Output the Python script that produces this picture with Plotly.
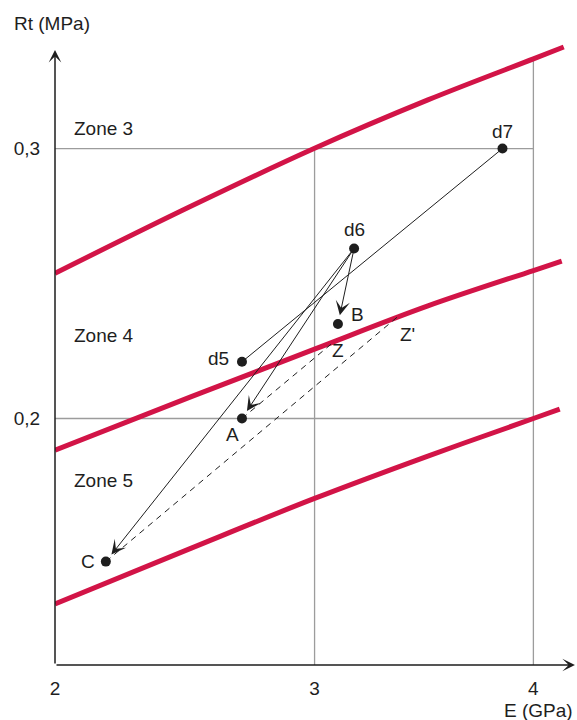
import numpy as np
import plotly.graph_objects as go

# Zone boundary curves: E (GPa) vs Rt (MPa)
upper_E = [2.0, 2.5, 3.0, 3.5, 4.0, 4.15]
upper_Rt = [0.2538, 0.2787, 0.3001, 0.3180, 0.3332, 0.3376]
middle_E = [2.0, 2.5, 3.0, 3.5, 4.0, 4.14]
middle_Rt = [0.1883, 0.2081, 0.2257, 0.2417, 0.2548, 0.2583]
lower_E = [2.0, 2.5, 3.0, 3.5, 4.0, 4.13]
lower_Rt = [0.1313, 0.1520, 0.1704, 0.1861, 0.2000, 0.2035]

# Measured states
point_names = ["d7", "d6", "d5", "B", "A", "C"]
point_E = [3.85, 3.17, 2.70, 3.10, 2.70, 2.18]
point_Rt = [0.300, 0.263, 0.221, 0.235, 0.200, 0.147]

# Projections onto the zone 4 / zone 5 boundary
target_names = ["Z", "Z'"]
target_E = [3.07, 3.36]
target_Rt = [0.2275, 0.2375]

# Zone names
zone_names = ["Zone 3", "Zone 4", "Zone 5"]
zone_Rt = [0.3076, 0.2309, 0.1772]

x_tick_values = [2, 3, 4]
y_tick_values = [0.2, 0.3]
y_tick_text = ["0,2", "0,3"]

RED = "#d21447"
INK = "#1e1e1e"
GRID = "#9c9c9c"
FONT = dict(family="Liberation Sans, Arial, sans-serif", size=19, color=INK)


def sx(e):
    """E axis is drawn on a square-root scale."""
    return np.sqrt(np.asarray(e, dtype=float))


pos = {n: (float(sx(e)), r) for n, e, r in zip(point_names, point_E, point_Rt)}
pos.update({n: (float(sx(e)), r) for n, e, r in zip(target_names, target_E, target_Rt)})

X_RANGE = [float(sx(2.0)), 2.0534]
Y_RANGE = [0.1087, 0.3402]
X_TIP = 2.0509
Y_TIP = 0.3365

fig = go.Figure()

# grid lines (box up to E = 4, vertical lines stop at the upper curve)
grid_shapes = []
for r in y_tick_values:
    grid_shapes.append(dict(type="line", xref="x", yref="y", x0=float(sx(2)), x1=float(sx(4)),
                            y0=r, y1=r, line=dict(color=GRID, width=1.3), layer="below"))
for e in x_tick_values[1:]:
    top = float(np.interp(e, upper_E, upper_Rt))
    grid_shapes.append(dict(type="line", xref="x", yref="y", x0=float(sx(e)), x1=float(sx(e)),
                            y0=Y_RANGE[0], y1=top, line=dict(color=GRID, width=1.3), layer="below"))

# zone boundaries
for E, R in [(upper_E, upper_Rt), (middle_E, middle_Rt), (lower_E, lower_Rt)]:
    fig.add_trace(go.Scatter(x=sx(E), y=R, mode="lines",
                             line=dict(color=RED, width=5, shape="spline", smoothing=1.0),
                             hoverinfo="skip", showlegend=False))

# d7 - d5 path
fig.add_trace(go.Scatter(x=[pos["d7"][0], pos["d5"][0]], y=[pos["d7"][1], pos["d5"][1]],
                         mode="lines", line=dict(color=INK, width=1), showlegend=False))

# dashed projections
for a, b in [("A", "Z"), ("C", "Z'")]:
    fig.add_trace(go.Scatter(x=[pos[a][0], pos[b][0]], y=[pos[a][1], pos[b][1]], mode="lines",
                             line=dict(color=INK, width=1, dash="6px,5px"), showlegend=False))

# state markers
fig.add_trace(go.Scatter(x=sx(point_E), y=point_Rt, mode="markers",
                         marker=dict(color=INK, size=10), showlegend=False))

annotations = []
# arrows from d6
for tgt in ["A", "B", "C"]:
    annotations.append(dict(x=pos[tgt][0], y=pos[tgt][1], ax=pos["d6"][0], ay=pos["d6"][1],
                            xref="x", yref="y", axref="x", ayref="y", text="",
                            showarrow=True, arrowhead=3, arrowsize=2.4, arrowwidth=1,
                            arrowcolor=INK, standoff=9))

# axis arrows
annotations.append(dict(x=X_TIP, y=Y_RANGE[0], ax=X_RANGE[0], ay=Y_RANGE[0],
                        xref="x", yref="y", axref="x", ayref="y", text="", showarrow=True,
                        arrowhead=3, arrowsize=1.4, arrowwidth=1.5, arrowcolor=INK))
annotations.append(dict(x=X_RANGE[0], y=Y_TIP, ax=X_RANGE[0], ay=Y_RANGE[0],
                        xref="x", yref="y", axref="x", ayref="y", text="", showarrow=True,
                        arrowhead=3, arrowsize=1.4, arrowwidth=1.5, arrowcolor=INK))

# point labels
label_shift = {"d7": (0, 17), "d6": (0, 19), "d5": (-23, 3), "B": (20, 10),
               "A": (-9, -16), "C": (-18, 0), "Z": (7, -6), "Z'": (10, -17)}
for name, (dx, dy) in label_shift.items():
    annotations.append(dict(x=pos[name][0], y=pos[name][1], xref="x", yref="y", text=name,
                            showarrow=False, xshift=dx, yshift=dy, font=FONT))

# zone labels
for name, r in zip(zone_names, zone_Rt):
    annotations.append(dict(x=float(sx(2.0)) + 0.0205, y=r, xref="x", yref="y", text=name,
                            showarrow=False, xanchor="left", font=FONT))

# axis titles
annotations.append(dict(x=-0.082, y=1.027, xref="paper", yref="paper", text="Rt (MPa)",
                        showarrow=False, xanchor="left", yanchor="middle", font=FONT))
annotations.append(dict(x=0.996, y=-0.072, xref="paper", yref="paper", text="E (GPa)",
                        showarrow=False, xanchor="right", yanchor="middle", font=FONT))

fig.update_layout(
    width=577, height=720,
    margin=dict(l=55, r=0, t=40, b=55),
    paper_bgcolor="white", plot_bgcolor="white",
    font=FONT,
    shapes=grid_shapes,
    annotations=annotations,
    xaxis=dict(range=X_RANGE, tickvals=sx(x_tick_values).tolist(),
               ticktext=[str(v) for v in x_tick_values], showgrid=False, zeroline=False,
               showline=False, ticks="outside", ticklen=6, tickcolor="rgba(0,0,0,0)",
               tickfont=FONT, fixedrange=True),
    yaxis=dict(range=Y_RANGE, tickvals=y_tick_values, ticktext=y_tick_text, showgrid=False,
               zeroline=False, showline=False, ticks="outside", ticklen=10,
               tickcolor="rgba(0,0,0,0)", tickfont=FONT, fixedrange=True),
)

fig.write_html("out.html")
